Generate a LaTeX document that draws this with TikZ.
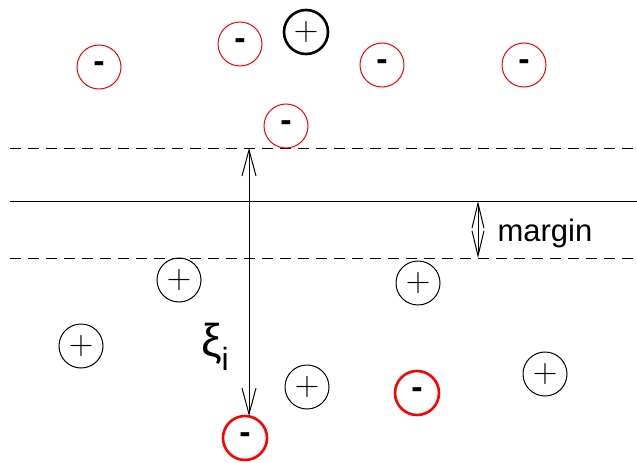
\documentclass[tikz,border=0pt]{standalone}
\usepackage{fontspec}
\newfontfamily\sansfont{Liberation Sans}
\usetikzlibrary{arrows.meta}
\begin{document}
\begin{tikzpicture}[x=1pt,y=-1pt,
  ball/.style={circle,draw,minimum size=44pt,inner sep=0pt,line width=1pt},
  posball/.style={ball,draw=black,font=\fontsize{34}{34}\selectfont,node contents={+}},
  negball/.style={ball,draw=red,font=\sansfont\fontsize{34}{34}\selectfont\bfseries,node contents={-}},
  heavy/.style={line width=2.6pt},
  rule/.style={line width=1pt},
  bound/.style={rule,dash pattern=on 11pt off 7pt},
  vee/.style={line width=1pt,{Straight Barb[length=26pt,width=14pt,line width=1pt]}-{Straight Barb[length=26pt,width=14pt,line width=1pt]}},
  narrowvee/.style={line width=1pt,{Straight Barb[length=25pt,width=12pt,line width=1pt]}-{Straight Barb[length=25pt,width=12pt,line width=1pt]}}]
  \useasboundingbox (0,0) rectangle (637,463);

  % separating hyperplane and its two margin boundaries
  \coordinate (upL) at (10,148);  \coordinate (upR) at (637,148);
  \coordinate (midL) at (10,201); \coordinate (midR) at (637,201);
  \coordinate (loL) at (10,258);  \coordinate (loR) at (637,258);
  \draw[bound] (upL) -- (upR);
  \draw[rule] (midL) -- (midR);
  \draw[bound] (loL) -- (loR);

  % negative samples (above)
  \node (n1) at (99,67) [negball];
  \node (n2) at (240,44) [negball];
  \node (n3) at (382,65) [negball];
  \node (n4) at (524,65) [negball];
  \node (n5) at (286,126) [negball];
  % misclassified positive sample
  \node (p0) at (306,32) [posball,heavy];

  % positive samples (below)
  \node (p1) at (179,280) [posball];
  \node (p2) at (418,283) [posball];
  \node (p3) at (81,346) [posball];
  \node (p4) at (307,387) [posball];
  \node (p5) at (545,374) [posball];
  % misclassified negative samples
  \node (n6) at (417,393) [negball,heavy];
  \node (n7) at (245,438) [negball,heavy];

  % slack distance
  \coordinate (xiTop) at (249,148);
  \coordinate (xiBot) at (249,416);
  \draw[vee] (xiTop) -- (xiBot);
  \node (xi) at (215,347) {\sansfont\fontsize{46}{46}\selectfont ξ\raisebox{-0.3em}{\fontsize{32}{32}\selectfont i}};

  % margin width
  \coordinate (mTop) at (478,201);
  \coordinate (mBot) at (478,258);
  \draw[narrowvee] (mTop) -- (mBot);
  \node (mlabel) [anchor=west] at (494,233) {\sansfont\fontsize{31}{31}\selectfont margin};
\end{tikzpicture}
\end{document}
